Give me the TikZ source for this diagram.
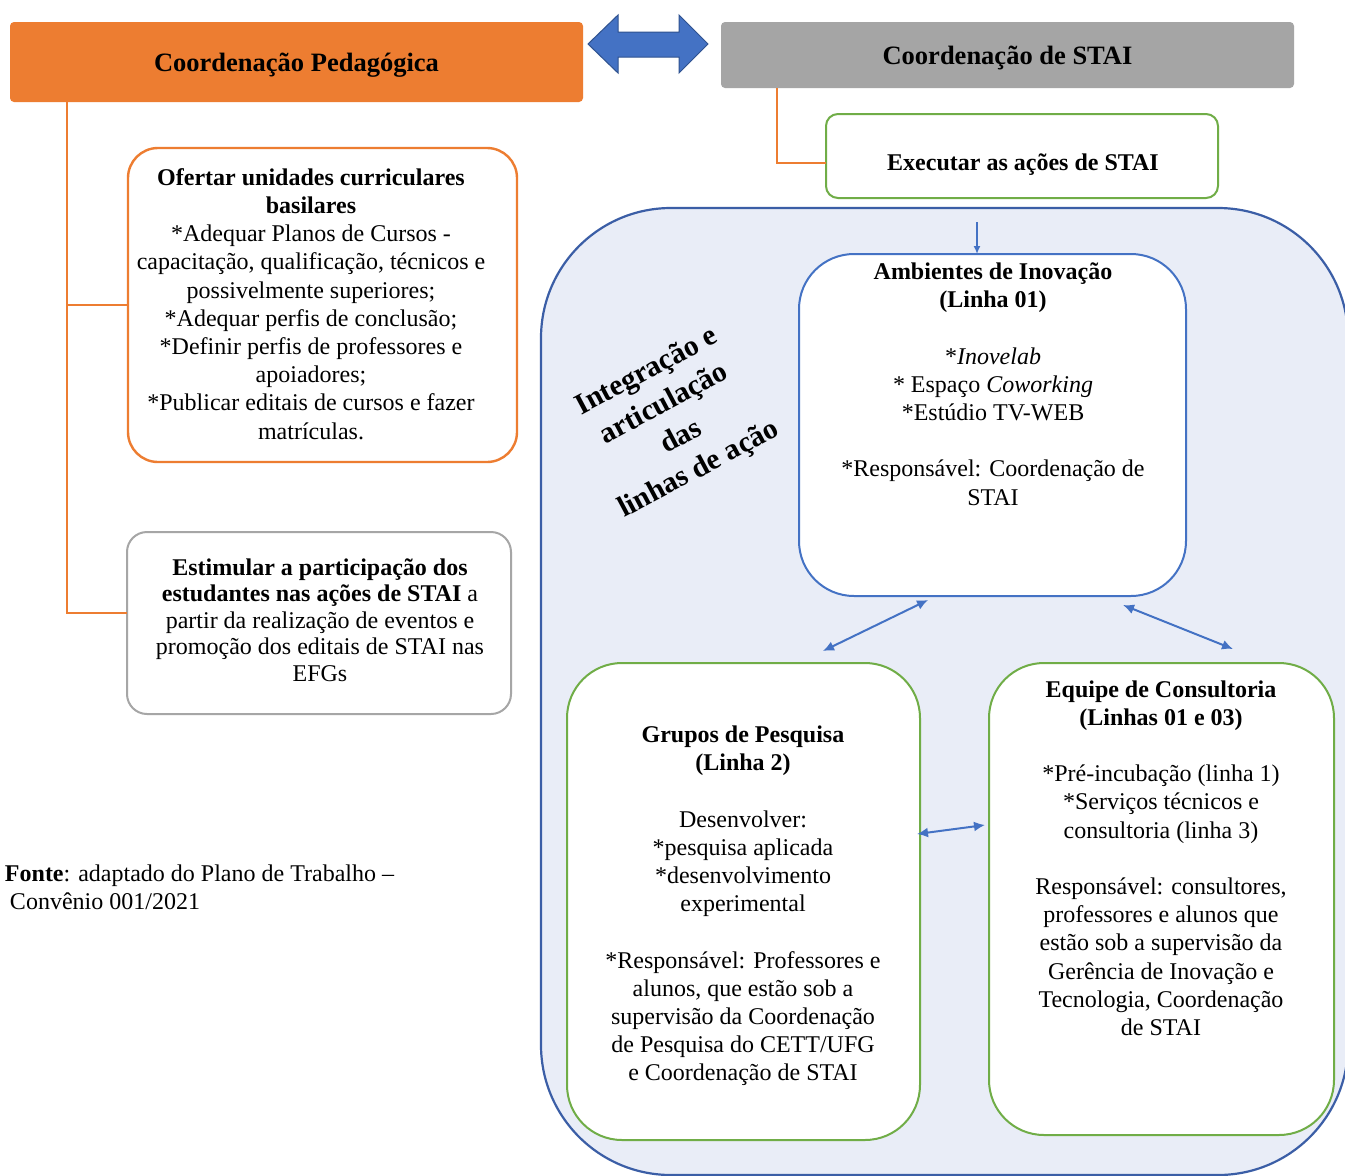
\documentclass[tikz,border=0pt]{standalone}
\usepackage{fontspec}
\setmainfont{Liberation Serif}
\usetikzlibrary{arrows.meta}
\definecolor{orangeA}{HTML}{ED7D31}
\definecolor{greyA}{HTML}{A5A5A5}
\definecolor{greyB}{HTML}{A6A6A6}
\definecolor{blueA}{HTML}{4472C4}
\definecolor{blueD}{HTML}{2F528F}
\definecolor{greenA}{HTML}{70AD47}
\definecolor{paleblue}{HTML}{E9EDF7}
\definecolor{contour}{HTML}{3B5EA6}

\begin{document}
\begin{tikzpicture}[x=1pt,y=-1pt,
  every node/.style={inner sep=0pt, outer sep=0pt},
  body/.style={font=\fontsize{24}{28.2}\selectfont, align=center},
  head/.style={font=\fontsize{26.5}{30}\selectfont\bfseries, align=center},
  panel/.style={draw, line width=2pt, fill=white, rounded corners=#1},
  link/.style={draw=orangeA, line width=2.2pt},
  blink/.style={draw=blueA, line width=2pt, {Latex[length=11pt,width=10pt]}-{Latex[length=11pt,width=10pt]}},
]
\useasboundingbox (0,0) rectangle (1345,1176);
\clip (0,0) rectangle (1345,1176);
\fill[white] (0,0) rectangle (1345,1176);

% large container holding the lines of action
\draw[contour, fill=paleblue, line width=2.2pt, rounded corners=130] (541,208) rectangle (1348,1175);

% header blocks
\node[fill=orangeA, rounded corners=4, minimum width=573pt, minimum height=80pt] (cp) at (296.5,62) {};
\node[head] (cpt) at (296.5,65) {Coordenação Pedagógica};
\node[fill=greyA, rounded corners=4, minimum width=573pt, minimum height=66pt] (cs) at (1007.5,55) {};
\node[head] (cst) at (1007.5,58) {Coordenação de STAI};

% two-way block arrow between the coordinations
\filldraw[fill=blueA, draw=blueD, line width=1pt]
  (588,44) -- (618,15) -- (618,32) -- (679,32) -- (679,15) -- (708,44)
  -- (679,73) -- (679,57) -- (618,57) -- (618,73) -- cycle;

% left column
\node[panel=30, draw=orangeA, line width=2.4pt, minimum width=389pt, minimum height=314pt] (of) at (322.5,305) {};
\node[body] (oft) at (311,304) {\textbf{Ofertar unidades curriculares}\\ \textbf{basilares}\\ *Adequar Planos de Cursos -\\ capacitação, qualificação, técnicos e\\ possivelmente superiores;\\ *Adequar perfis de conclusão;\\ *Definir perfis de professores e\\ apoiadores;\\ *Publicar editais de cursos e fazer\\ matrículas.};

\node[panel=20, draw=greyB, minimum width=384pt, minimum height=182pt] (es) at (319,623) {};
\node[body, font=\fontsize{24}{26.5}\selectfont] (est) at (320,620) {\textbf{Estimular a participação dos}\\ \textbf{estudantes nas ações de STAI} a\\ partir da realização de eventos e\\ promoção dos editais de STAI nas\\ EFGs};

\coordinate (trunk) at (67,102);
\coordinate (fork1) at (67,305);
\coordinate (fork2) at (67,613);
\draw[link] (trunk) -- (fork2) -- (es.west |- fork2);
\draw[link] (fork1) -- (of.west |- fork1);

% executing box
\node[panel=12, draw=greenA, minimum width=392pt, minimum height=84pt] (ex) at (1022,156) {};
\node[body, font=\fontsize{24}{28}\selectfont\bfseries] (ext) at (1023,165) {Executar as ações de STAI};
\coordinate (drop) at (777,88);
\coordinate (bend) at (777,163);
\draw[link] (drop) -- (bend) -- (ex.west |- bend);

% lines of action
\node[panel=55, draw=blueA, minimum width=387pt, minimum height=342pt] (am) at (992.5,425) {};
\node[body] (amt) at (993,384) {\textbf{Ambientes de Inovação}\\ \textbf{(Linha 01)}\\[28.2pt] *\textit{Inovelab}\\ * Espaço \textit{Coworking}\\ *Estúdio TV-WEB\\[28.2pt] *Responsável: Coordenação de\\ STAI};

\node[panel=55, draw=greenA, minimum width=353pt, minimum height=477pt] (gp) at (743.5,901.5) {};
\node[body] (gpt) at (743,906) {\textbf{Grupos de Pesquisa}\\ \textbf{(Linha 2)}\\[28.2pt] Desenvolver:\\ *pesquisa aplicada\\ *desenvolvimento\\ experimental\\[28.2pt] *Responsável: Professores e\\ alunos, que estão sob a\\ supervisão da Coordenação\\ de Pesquisa do CETT/UFG\\ e Coordenação de STAI};

\node[panel=55, draw=greenA, minimum width=345pt, minimum height=472pt] (eq) at (1161.5,899) {};
\node[body] (eqt) at (1161,858) {\textbf{Equipe de Consultoria}\\ \textbf{(Linhas 01 e 03)}\\[28.2pt] *Pré-incubação (linha 1)\\ *Serviços técnicos e\\ consultoria (linha 3)\\[28.2pt] Responsável: consultores,\\ professores e alunos que\\ estão sob a supervisão da\\ Gerência de Inovação e\\ Tecnologia, Coordenação\\ de STAI};

% connectors among the lines of action
\coordinate (inTop) at (977,222);
\draw[draw=blueA, line width=1.6pt, -{Latex[length=8pt,width=7pt]}] (inTop) -- (inTop |- am.north);
\coordinate (a1) at (928,600);
\coordinate (a2) at (823,651);
\coordinate (b1) at (1123,605);
\coordinate (b2) at (1233,649);
\coordinate (c1) at (917,834);
\coordinate (c2) at (985,825);
\draw[blink] (a1) -- (a2);
\draw[blink] (b1) -- (b2);
\draw[blink] (c1) -- (c2);

% rotated caption
\node[font=\fontsize{29.5}{37}\selectfont\bfseries, align=center, rotate=28] (integ) at (673,421)
  {Integração e\\ articulação\\ das\\ linhas de ação};

% source note
\node[font=\fontsize{24}{28}\selectfont, align=left, anchor=west] (src) at (5,887)
  {\textbf{Fonte}: adaptado do Plano de Trabalho –\\ \hspace*{5pt}Convênio 001/2021};
\end{tikzpicture}
\end{document}
